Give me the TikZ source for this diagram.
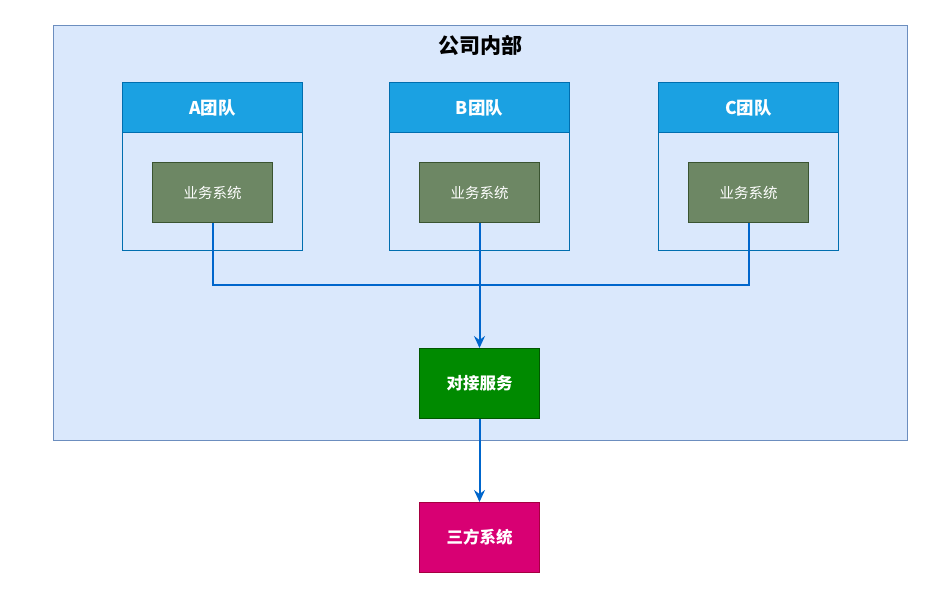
\documentclass[tikz,border=0pt]{standalone}
\usepackage{fontspec}
\setmainfont{Noto Sans CJK SC}
\usetikzlibrary{arrows.meta}
\definecolor{outerfill}{HTML}{DAE8FC}
\definecolor{outerline}{HTML}{6C8EBF}
\definecolor{teamline}{HTML}{006EAF}
\definecolor{teamhead}{HTML}{1BA1E2}
\definecolor{bizfill}{HTML}{6D8764}
\definecolor{bizline}{HTML}{3A5431}
\definecolor{conn}{HTML}{0066CC}
\definecolor{svcfill}{HTML}{008A00}
\definecolor{svcline}{HTML}{005700}
\definecolor{extfill}{HTML}{D80073}
\definecolor{extline}{HTML}{A50040}
\tikzset{
  box/.style={draw, line width=1pt, inner sep=0pt, anchor=north west},
  teambox/.style={box, draw=teamline, minimum width=180pt, minimum height=168pt},
  teamhdr/.style={box, draw=teamline, fill=teamhead, minimum width=180pt, minimum height=50pt, text=white, font=\bfseries\fontsize{17.5pt}{20pt}\selectfont},
  bizbox/.style={box, draw=bizline, fill=bizfill, minimum width=120pt, minimum height=60pt, text=white, font=\fontsize{14.5pt}{17pt}\selectfont},
  svcbox/.style={box, minimum width=120pt, minimum height=70pt, text=white, font=\bfseries\fontsize{16.5pt}{19pt}\selectfont},
  link/.style={draw=conn, line width=2pt},
  arr/.style={link, -{Stealth[length=12pt,width=11pt,inset=4pt]}},
}
\begin{document}
\begin{tikzpicture}[x=1pt,y=-1pt]
\useasboundingbox (0,0) rectangle (948,594);
\node[box, draw=outerline, fill=outerfill, minimum width=854pt, minimum height=415pt] (outer) at (53,25) {};
\node[font=\bfseries\fontsize{21pt}{24pt}\selectfont] (title) at (480,45) {公司内部};
% teams
\node[teambox] (ta) at (122,82) {};
\node[teamhdr] (ha) at (122,82) {A团队};
\node[bizbox] (ba) at (152,162) {业务系统};
\node[teambox] (tb) at (389,82) {};
\node[teamhdr] (hb) at (389,82) {B团队};
\node[bizbox] (bb) at (419,162) {业务系统};
\node[teambox] (tc) at (658,82) {};
\node[teamhdr] (hc) at (658,82) {C团队};
\node[bizbox] (bc) at (688,162) {业务系统};
% services
\node[svcbox, draw=svcline, fill=svcfill] (svc) at (419,348) {对接服务};
\node[svcbox, draw=extline, fill=extfill] (ext) at (419,502) {三方系统};
\coordinate (j) at (bb.south |- 0,285);
\draw[link] (ba.south) |- (j);
\draw[link] (bc.south) |- (j);
\draw[arr] (bb.south) -- (svc.north);
\draw[arr] (svc.south) -- (ext.north);
\end{tikzpicture}
\end{document}
